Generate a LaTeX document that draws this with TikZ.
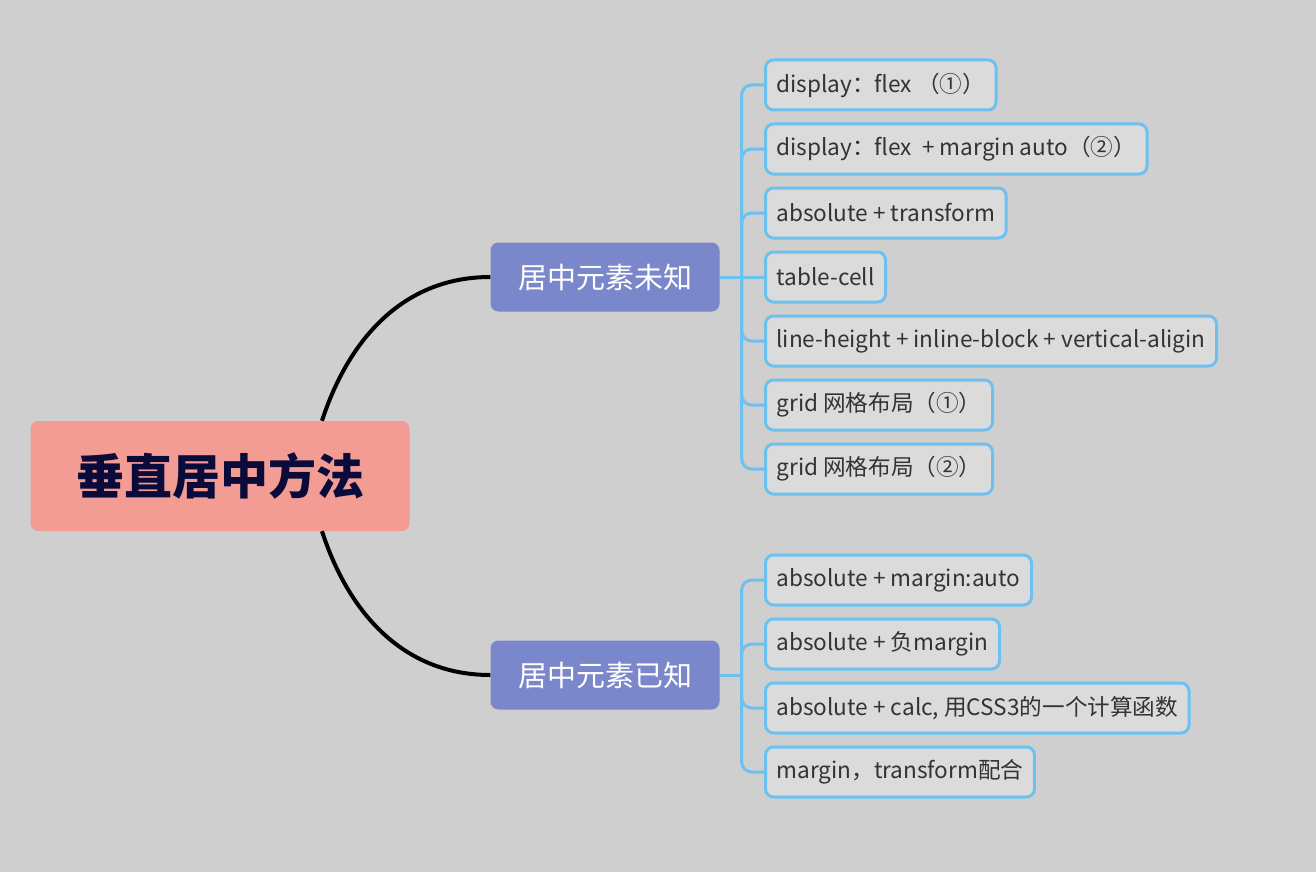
\documentclass[tikz,border=0pt]{standalone}
\usepackage{fontspec}
\setmainfont{Noto Sans CJK SC}
\usetikzlibrary{positioning}

\definecolor{canvas}{HTML}{CFCFCF}
\definecolor{salmon}{HTML}{F29C94}
\definecolor{navy}{HTML}{0B0B3B}
\definecolor{lavender}{HTML}{7A87CA}
\definecolor{sky}{HTML}{6CC1F0}
\definecolor{leafgray}{HTML}{DBDBDB}
\definecolor{ink}{HTML}{333333}

\begin{document}
\begin{tikzpicture}[x=1pt, y=-1pt,
every node/.style={},
topic/.style={rectangle, rounded corners=8pt, fill=salmon, text=navy, font=\fontsize{48}{52}\selectfont\bfseries, minimum width=379pt, minimum height=110pt},
branch/.style={rectangle, rounded corners=8pt, fill=lavender, text=white, font=\fontsize{29}{33}\selectfont, minimum width=229pt, minimum height=69pt},
leaf/.style={rectangle, rounded corners=8pt, draw=sky, line width=3pt, fill=leafgray, text=ink, font=\fontsize{22.6}{26}\selectfont, minimum height=50pt, inner xsep=11pt, anchor=west},
trunk/.style={line width=4pt, black},
twig/.style={line width=3pt, sky, rounded corners=10pt}
]

\useasboundingbox (0,0) rectangle (1316,872);
\fill [canvas] (0,0) rectangle (1316,872);

\node [topic] (root) at (220,476) {垂直居中方法};

\node [branch] (unknown) at (605,277) {居中元素未知};
\node [branch] (known) at (605,675) {居中元素已知};

% unknown size
\node [leaf] (u1) at (764,85) {display：flex （①）};
\node [leaf] (u2) [below right=11pt and 0pt of u1.south west] {display：flex~ + margin auto（②）};
\node [leaf] (u3) [below right=11pt and 0pt of u2.south west] {absolute + transform};
\node [leaf] (u4) [below right=11pt and 0pt of u3.south west] {table-cell};
\node [leaf] (u5) [below right=11pt and 0pt of u4.south west] {line-height + inline-block + vertical-aligin};
\node [leaf] (u6) [below right=11pt and 0pt of u5.south west] {grid 网格布局（①）};
\node [leaf] (u7) [below right=11pt and 0pt of u6.south west] {grid 网格布局（②）};

% known size
\node [leaf] (k1) at (764,580) {absolute + margin:auto};
\node [leaf] (k2) [below right=11pt and 0pt of k1.south west] {absolute + 负margin};
\node [leaf] (k3) [below right=11pt and 0pt of k2.south west] {absolute + calc, 用CSS3的一个计算函数};
\node [leaf] (k4) [below right=11pt and 0pt of k3.south west] {margin，transform配合};

\draw [trunk] ([xshift=102pt]root.north) to[out=72, in=180] (unknown.west);
\draw [trunk] ([xshift=102pt]root.south) to[out=-72, in=180] (known.west);

\coordinate (uhub) at ([xshift=22pt]unknown.east);
\coordinate (khub) at ([xshift=22pt]known.east);

\draw [twig] (unknown.east) -- (uhub);
\draw [twig] (uhub) |- (u1.west);
\draw [twig] (uhub) |- (u2.west);
\draw [twig] (uhub) |- (u3.west);
\draw [twig] (uhub) -- (u4.west);
\draw [twig] (uhub) |- (u5.west);
\draw [twig] (uhub) |- (u6.west);
\draw [twig] (uhub) |- (u7.west);

\draw [twig] (known.east) -- (khub);
\draw [twig] (khub) |- (k1.west);
\draw [twig] (khub) |- (k2.west);
\draw [twig] (khub) |- (k3.west);
\draw [twig] (khub) |- (k4.west);

\end{tikzpicture}
\end{document}
